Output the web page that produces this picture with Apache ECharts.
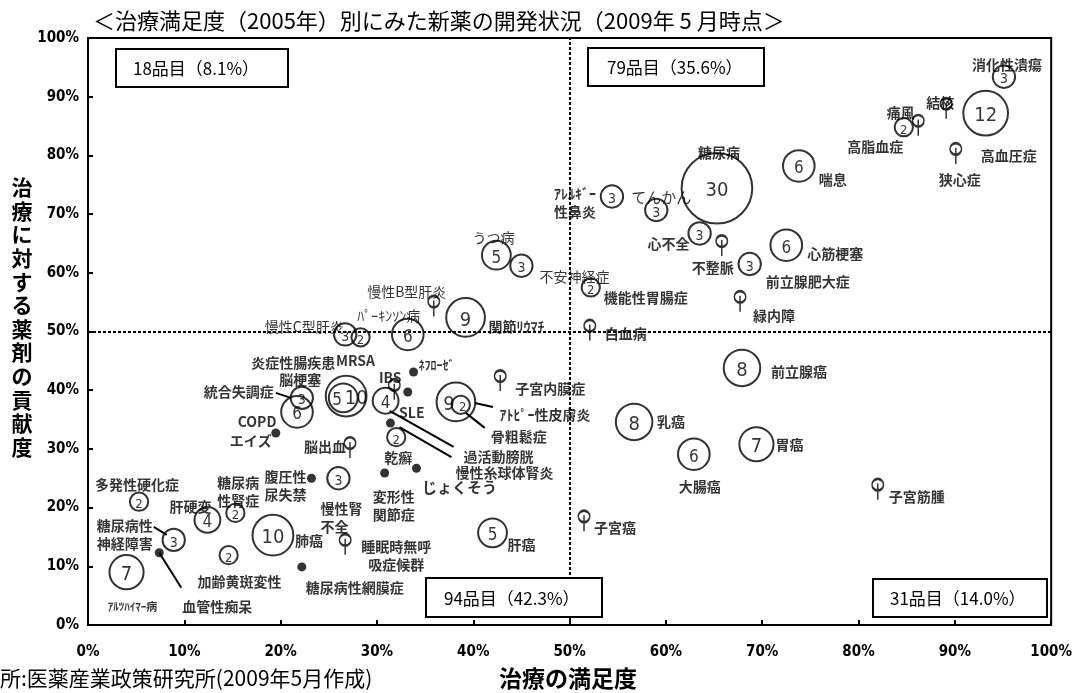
<!DOCTYPE html>
<html>
<head>
<meta charset="utf-8">
<script src="https://cdn.jsdelivr.net/npm/echarts@6/dist/echarts.min.js"></script>
<style>
  html, body { margin: 0; padding: 0; background: #fff; }
  #chart { width: 1075px; height: 693px; }
</style>
</head>
<body>
<div id="chart"></div>
<script>
// Diseases: treatment satisfaction (x, %), drug contribution to treatment (y, %),
// and the number of new drugs in development for each disease.
const diseases = ['消化性潰瘍','高血圧症','狭心症','痛風','高脂血症','結核','糖尿病','喘息','アレルギー性鼻炎','てんかん',
  '心不全','不整脈','心筋梗塞','前立腺肥大症','機能性胃腸症','緑内障','白血病','不安神経症','うつ病','関節リウマチ',
  '慢性B型肝炎','パーキンソン病','慢性C型肝炎','MRSA','炎症性腸疾患','脳梗塞','統合失調症','COPD','エイズ','ネフローゼ',
  'IBS','SLE','過活動膀胱','慢性糸球体腎炎','乾癬','変形性関節症','じょくそう','脳出血','腹圧性尿失禁','慢性腎不全',
  '肺癌','睡眠時無呼吸症候群','糖尿病性網膜症','肝癌','糖尿病性腎症','肝硬変','多発性硬化症','糖尿病性神経障害','血管性痴呆','アルツハイマー病',
  '加齢黄斑変性','アトピー性皮膚炎','骨粗鬆症','子宮内膜症','前立腺癌','乳癌','大腸癌','胃癌','子宮筋腫','子宮癌'];
const satisfaction = [95.1,93.2,90.1,84.7,86.2,89.1,65.3,73.8,54.4,59.0,
  63.5,65.8,72.5,68.7,52.2,67.7,52.1,45.0,42.4,39.2,
  35.9,33.2,26.7,28.3,26.8,26.5,22.2,21.7,19.5,33.8,
  31.8,33.2,30.9,31.4,32.0,30.8,34.1,27.2,23.2,26.0,
  19.2,26.7,22.2,42.0,15.3,12.4,5.3,8.9,7.4,4.0,
  14.6,38.2,38.7,42.8,67.9,56.7,62.9,69.4,82.0,51.5];
const contribution = [93.4,87.2,81.1,84.8,85.9,88.8,74.4,78.2,73.0,70.7,
  66.7,65.4,64.7,61.5,57.5,55.9,51.0,61.2,63.0,52.4,
  55.1,49.5,49.5,49.0,39.0,38.7,38.7,36.3,32.7,43.1,
  40.9,39.7,38.2,34.4,32.0,25.9,26.7,31.0,25.0,25.0,
  15.3,14.5,9.9,15.7,19.1,17.9,21.0,14.5,12.3,9.0,
  11.9,38.0,37.5,42.4,43.8,34.6,29.1,30.8,23.9,18.5];
const pipeline = [3,12,1,2,1,1,30,6,3,3,
  3,1,6,3,2,1,1,3,5,9,
  1,6,3,2,10,5,3,6,0,0,
  1,0,4,0,2,0,0,1,0,3,
  10,1,0,5,2,4,2,3,0,7,
  2,9,2,1,8,8,6,7,1,1];
const axisTicks = [0,10,20,30,40,50,60,70,80,90,100];

const titleText = '＜治療満足度（2005年）別にみた新薬の開発状況（2009年 5 月時点＞';
const xName = '治療の満足度';
const yName = '治療に対する薬剤の貢献度';
const sourceText = '所:医薬産業政策研究所(2009年5月作成)';

const JP = "'Noto Sans CJK JP', 'Noto Sans CJK SC', sans-serif";
const NUM = "'Liberation Sans Narrow', 'DejaVu Sans Condensed', 'Liberation Sans', sans-serif";

// Where each disease name sits relative to its mark: [dx, dy, options]
const nameLayout = {
  '消化性潰瘍': [3,-12], '高血圧症': [23,43], '狭心症': [4,31], '痛風': [-3,-15], '高脂血症': [-43,26],
  '結核': [-6,-1], '糖尿病': [2,-36], '喘息': [34,14],
  'アレルギー性鼻炎': [-37,6,{text:'ｱﾚﾙｷﾞｰ\n性鼻炎'}], 'てんかん': [5,-13,{weight:'normal',size:15}],
  '心不全': [-31,10], '不整脈': [-9,27], '心筋梗塞': [49,8], '前立腺肥大症': [58,18], '機能性胃腸症': [55,10],
  '緑内障': [34,19], '白血病': [36,8], '不安神経症': [53,11,{weight:'normal'}], 'うつ病': [-3,-18,{weight:'normal'}],
  '関節リウマチ': [51,9,{text:'関節ﾘｳﾏﾁ'}], '慢性B型肝炎': [-27,-10,{weight:'normal'}],
  'パーキンソン病': [-19,-19,{text:'ﾊﾟｰｷﾝｿﾝ病',weight:'normal'}], '慢性C型肝炎': [-41,-8,{weight:'normal'}],
  'MRSA': [-5,23], '炎症性腸疾患': [-53,-33], '脳梗塞': [-43,-18], '統合失調症': [-63,-6], 'COPD': [-40,10],
  'エイズ': [-25,8], 'ネフローゼ': [23,-7,{text:'ﾈﾌﾛｰｾﾞ',size:12}], 'IBS': [-4,-7], 'SLE': [4,21],
  '過活動膀胱': [113,56], '慢性糸球体腎炎': [114,50], '乾癬': [2,21], '変形性関節症': [9,33,{text:'変形性\n関節症'}],
  'じょくそう': [43,19,{size:15}], '脳出血': [-25,4], '腹圧性尿失禁': [-26,7,{text:'腹圧性\n尿失禁'}],
  '慢性腎不全': [-18,39,{text:'慢性腎\n不全',align:'left'}], '肺癌': [36,5],
  '睡眠時無呼吸症候群': [51,16,{text:'睡眠時無呼\n吸症候群'}], '糖尿病性網膜症': [53,21], '肝癌': [29,12],
  '糖尿病性腎症': [3,-21,{text:'糖尿病\n性腎症'}], '肝硬変': [-17,-13], '多発性硬化症': [-2,-17],
  '糖尿病性神経障害': [-49,-5,{text:'糖尿病性\n神経障害'}], '血管性痴呆': [58,54],
  'アルツハイマー病': [6,35,{text:'ｱﾙﾂﾊｲﾏｰ病',size:11}], '加齢黄斑変性': [11,27],
  'アトピー性皮膚炎': [89,13,{text:'ｱﾄﾋﾟｰ性皮膚炎'}], '骨粗鬆症': [58,32], '子宮内膜症': [50,13],
  '前立腺癌': [57,4], '乳癌': [37,0], '大腸癌': [6,33], '胃癌': [33,0], '子宮筋腫': [39,12], '子宮癌': [31,11]
};

// Leader lines from a mark to its name, as pixel offsets from the mark
const leaders = {
  '統合失調症': [[-26,-5],[-11,0]],
  '糖尿病性神経障害': [[-20,-13],[-7,-5]],
  '血管性痴呆': [[0,0],[22,35]],
  '過活動膀胱': [[4,10],[68,46]],
  '慢性糸球体腎炎': [[9,4],[61,34]],
  'アトピー性皮膚炎': [[19,1],[37,5]],
  '骨粗鬆症': [[5,8],[24,23]]
};

// Count labels that share a ring with another mark are nudged apart
const numberShift = { '脳梗塞': [-6,3], '炎症性腸疾患': [10,3], 'アトピー性皮膚炎': [-7,3], '骨粗鬆症': [2,3] };

function ringSize(n) { return 12.9 * Math.sqrt(n); }
function numberSize(n) { return n >= 7 ? 20 : n >= 4 ? 17 : n === 3 ? 14 : 13; }

const rings = [], pins = [], dots = [], names = [];
diseases.forEach((name, i) => {
  const n = pipeline[i];
  const value = [satisfaction[i], contribution[i], n];
  if (n === 0) dots.push({ name, value });
  else if (n === 1) pins.push({ name, value });
  else rings.push({ name, value, label: { fontSize: numberSize(n), offset: numberShift[name] || [0, 3] } });
  const L = nameLayout[name] || [0, 0];
  const o = L[2] || {};
  names.push({ name, value, label: { offset: [L[0], L[1]], align: o.align || 'center',
    fontWeight: o.weight || 'bold', fontSize: o.size || 14 } });
});
const displayName = name => ((nameLayout[name] || [])[2] || {}).text || name;

// Drugs per quadrant (split at 50% on both axes)
const total = pipeline.reduce((a, b) => a + b, 0);
const quad = { ul: 0, ur: 0, ll: 0, lr: 0 };
pipeline.forEach((n, i) => {
  const k = (contribution[i] >= 50 ? 'u' : 'l') + (satisfaction[i] >= 50 ? 'r' : 'l');
  quad[k] += n;
});
const quadText = k => `${quad[k]}品目（${(quad[k] / total * 100).toFixed(1)}%）`;

const chart = echarts.init(document.getElementById('chart'));

const axisCommon = {
  type: 'value', min: 0, max: 100, interval: 10,
  axisLine: { show: true, lineStyle: { color: '#000', width: 2 } },
  axisTick: { show: true, inside: true, length: 5, lineStyle: { color: '#000', width: 2 } },
  splitLine: { show: false },
  axisLabel: { formatter: v => axisTicks.includes(v) ? v + '%' : '', color: '#000',
    fontFamily: NUM, fontWeight: 'bold', fontSize: 15 }
};

chart.setOption({
  animation: false,
  backgroundColor: '#fff',
  grid: { left: 88, right: 20, top: 38, bottom: 68, show: true, borderColor: '#000', borderWidth: 2 },
  xAxis: Object.assign({}, axisCommon, { axisLabel: Object.assign({}, axisCommon.axisLabel, { margin: 20 }) }),
  yAxis: Object.assign({}, axisCommon, { axisLabel: Object.assign({}, axisCommon.axisLabel, { margin: 9 }) }),
  series: [
    {
      type: 'scatter', name: 'none', data: dots, symbol: 'circle', symbolSize: 9,
      itemStyle: { color: '#000' }, emphasis: { disabled: true }, z: 3,
      markLine: {
        silent: true, symbol: 'none', label: { show: false },
        lineStyle: { color: '#000', type: [3, 2], width: 2 },
        data: [{ xAxis: 50 }, { yAxis: 50 }]
      }
    },
    {
      type: 'scatter', name: 'one', data: pins,
      symbol: 'path://M1,6A5,5,0,1,1,11,6A5,5,0,1,1,1,6ZM6,5L6,19',
      symbolSize: [11.5, 20.7], symbolOffset: [0, 4.6],
      itemStyle: { color: 'rgba(0,0,0,0)', borderColor: '#000', borderWidth: 2 },
      emphasis: { disabled: true }, z: 3
    },
    {
      type: 'scatter', name: 'many', data: rings, symbol: 'circle',
      symbolSize: v => ringSize(v[2]),
      itemStyle: { color: 'rgba(255,255,255,0)', borderColor: '#000', borderWidth: 2 },
      label: { show: true, position: 'inside', formatter: p => String(p.value[2]), color: '#000',
        fontFamily: NUM, fontWeight: 'normal' },
      emphasis: { disabled: true }, z: 3
    },
    {
      type: 'scatter', name: 'names', data: names, symbolSize: 1,
      itemStyle: { color: 'rgba(0,0,0,0)' }, silent: true,
      label: { show: true, position: 'inside', formatter: p => displayName(p.name), color: '#000',
        fontFamily: JP, lineHeight: 18 },
      emphasis: { disabled: true }, z: 4
    }
  ]
});

// Title, axis names, source, quadrant boxes and leader lines
const graphics = [];
graphics.push({ type: 'text', x: 93, y: 21, z: 100,
  style: { text: titleText, font: `22px ${JP}`, fill: '#000', verticalAlign: 'middle' } });
graphics.push({ type: 'text', x: 22, y: 317, z: 100,
  style: { text: yName.split('').join('\n'), font: `bold 21px ${JP}`, fill: '#000',
    align: 'center', verticalAlign: 'middle', lineHeight: 23.6 } });
graphics.push({ type: 'text', x: 568, y: 678, z: 100,
  style: { text: xName, font: `bold 23px ${JP}`, fill: '#000', align: 'center', verticalAlign: 'middle' } });
graphics.push({ type: 'text', x: 0, y: 678, z: 100,
  style: { text: sourceText, font: `21px ${JP}`, fill: '#000', verticalAlign: 'middle' } });

function noteBox(x, y, w, h, pad, text) {
  return { type: 'group', x, y, z: 100, children: [
    { type: 'rect', z: 100, shape: { x: 0, y: 0, width: w, height: h }, style: { fill: '#fff', stroke: '#000', lineWidth: 2 } },
    { type: 'text', z: 101, x: pad, y: h / 2 + 1, style: { text, font: `17px ${JP}`, fill: '#000', verticalAlign: 'middle' } }
  ] };
}
graphics.push(noteBox(116, 49, 172, 38, 17, quadText('ul')));
graphics.push(noteBox(588, 48, 176, 38, 19, quadText('ur')));
graphics.push(noteBox(426, 578, 176, 39, 18, quadText('ll')));
graphics.push(noteBox(873, 579, 174, 38, 17, quadText('lr')));

diseases.forEach((name, i) => {
  const seg = leaders[name];
  if (!seg) return;
  const p = chart.convertToPixel({ gridIndex: 0 }, [satisfaction[i], contribution[i]]);
  graphics.push({ type: 'line', z: 50,
    shape: { x1: p[0] + seg[0][0], y1: p[1] + seg[0][1], x2: p[0] + seg[1][0], y2: p[1] + seg[1][1] },
    style: { stroke: '#000', lineWidth: 2 } });
});

chart.setOption({ graphic: graphics });
</script>
</body>
</html>
